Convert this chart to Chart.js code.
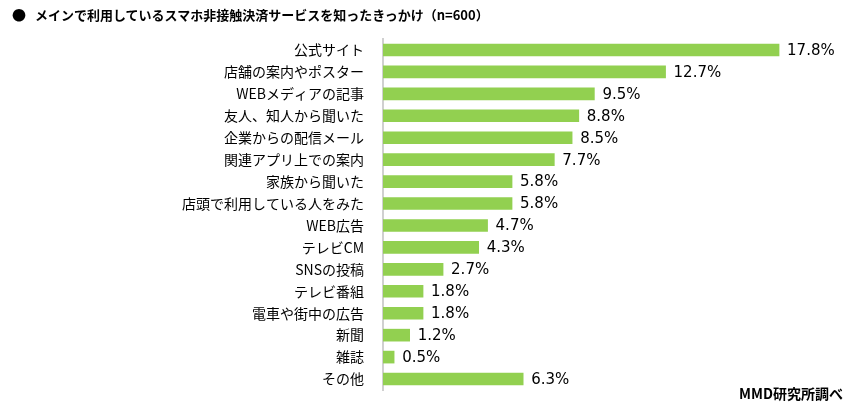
<!DOCTYPE html>
<html>
<head>
<meta charset="utf-8">
<script src="https://cdn.jsdelivr.net/npm/chart.js@4.4.1/dist/chart.umd.min.js"></script>
<style>
  html, body { margin: 0; padding: 0; background: #fff; }
  #wrap { position: relative; width: 853px; height: 413px; }
  #title {
    position: absolute; left: 12px; top: 4px;
    font-family: "Noto Sans CJK JP", sans-serif; font-weight: bold; font-size: 13px; color: #000;
  }
  #title .dot { display: inline-block; width: 23px; font-size: 14px; }
  #source {
    position: absolute; right: 10px; top: 383px;
    font-family: "Noto Sans CJK JP", sans-serif; font-weight: bold; font-size: 14px; color: #000;
  }
</style>
</head>
<body>
<div id="wrap">
  <canvas id="chart" width="853" height="413"></canvas>
  <div id="title"><span class="dot">●</span>メインで利用しているスマホ非接触決済サービスを知ったきっかけ（n=600）</div>
  <div id="source">MMD研究所調べ</div>
</div>
<script>
const categories = [
  '公式サイト', '店舗の案内やポスター', 'WEBメディアの記事', '友人、知人から聞いた',
  '企業からの配信メール', '関連アプリ上での案内', '家族から聞いた', '店頭で利用している人をみた',
  'WEB広告', 'テレビCM', 'SNSの投稿', 'テレビ番組', '電車や街中の広告', '新聞', '雑誌', 'その他'
];
const values = [17.8, 12.7, 9.5, 8.8, 8.5, 7.7, 5.8, 5.8, 4.7, 4.3, 2.7, 1.8, 1.8, 1.2, 0.5, 6.3];
const barColor = '#92D050';

// draws "17.8%" etc. right of each bar
const valueLabels = {
  id: 'valueLabels',
  afterDatasetsDraw(chart) {
    const ctx = chart.ctx;
    const meta = chart.getDatasetMeta(0);
    ctx.save();
    ctx.font = '15px "DejaVu Sans", sans-serif';
    ctx.fillStyle = '#000';
    ctx.textBaseline = 'middle';
    meta.data.forEach((bar, i) => {
      ctx.fillText(values[i].toFixed(1) + '%', bar.x + 8, bar.y + 1);
    });
    ctx.restore();
  }
};

new Chart(document.getElementById('chart'), {
  type: 'bar',
  data: {
    labels: categories,
    datasets: [{ data: values, backgroundColor: barColor, barThickness: 12 }]
  },
  options: {
    indexAxis: 'y',
    responsive: false,
    animation: false,
    layout: { padding: { left: 0, right: 25, top: 39, bottom: 23 } },
    plugins: { legend: { display: false }, tooltip: { enabled: false } },
    scales: {
      x: { display: false, min: 0, max: 20 },
      y: {
        grid: { display: false },
        border: { display: true, color: '#d0d0d0', width: 2 },
        ticks: {
          color: '#000',
          padding: 11,
          font: { family: '"Noto Sans CJK JP", sans-serif', size: 14 }
        },
        afterFit(scale) { scale.width = 383; }
      }
    }
  },
  plugins: [valueLabels]
});
</script>
</body>
</html>
